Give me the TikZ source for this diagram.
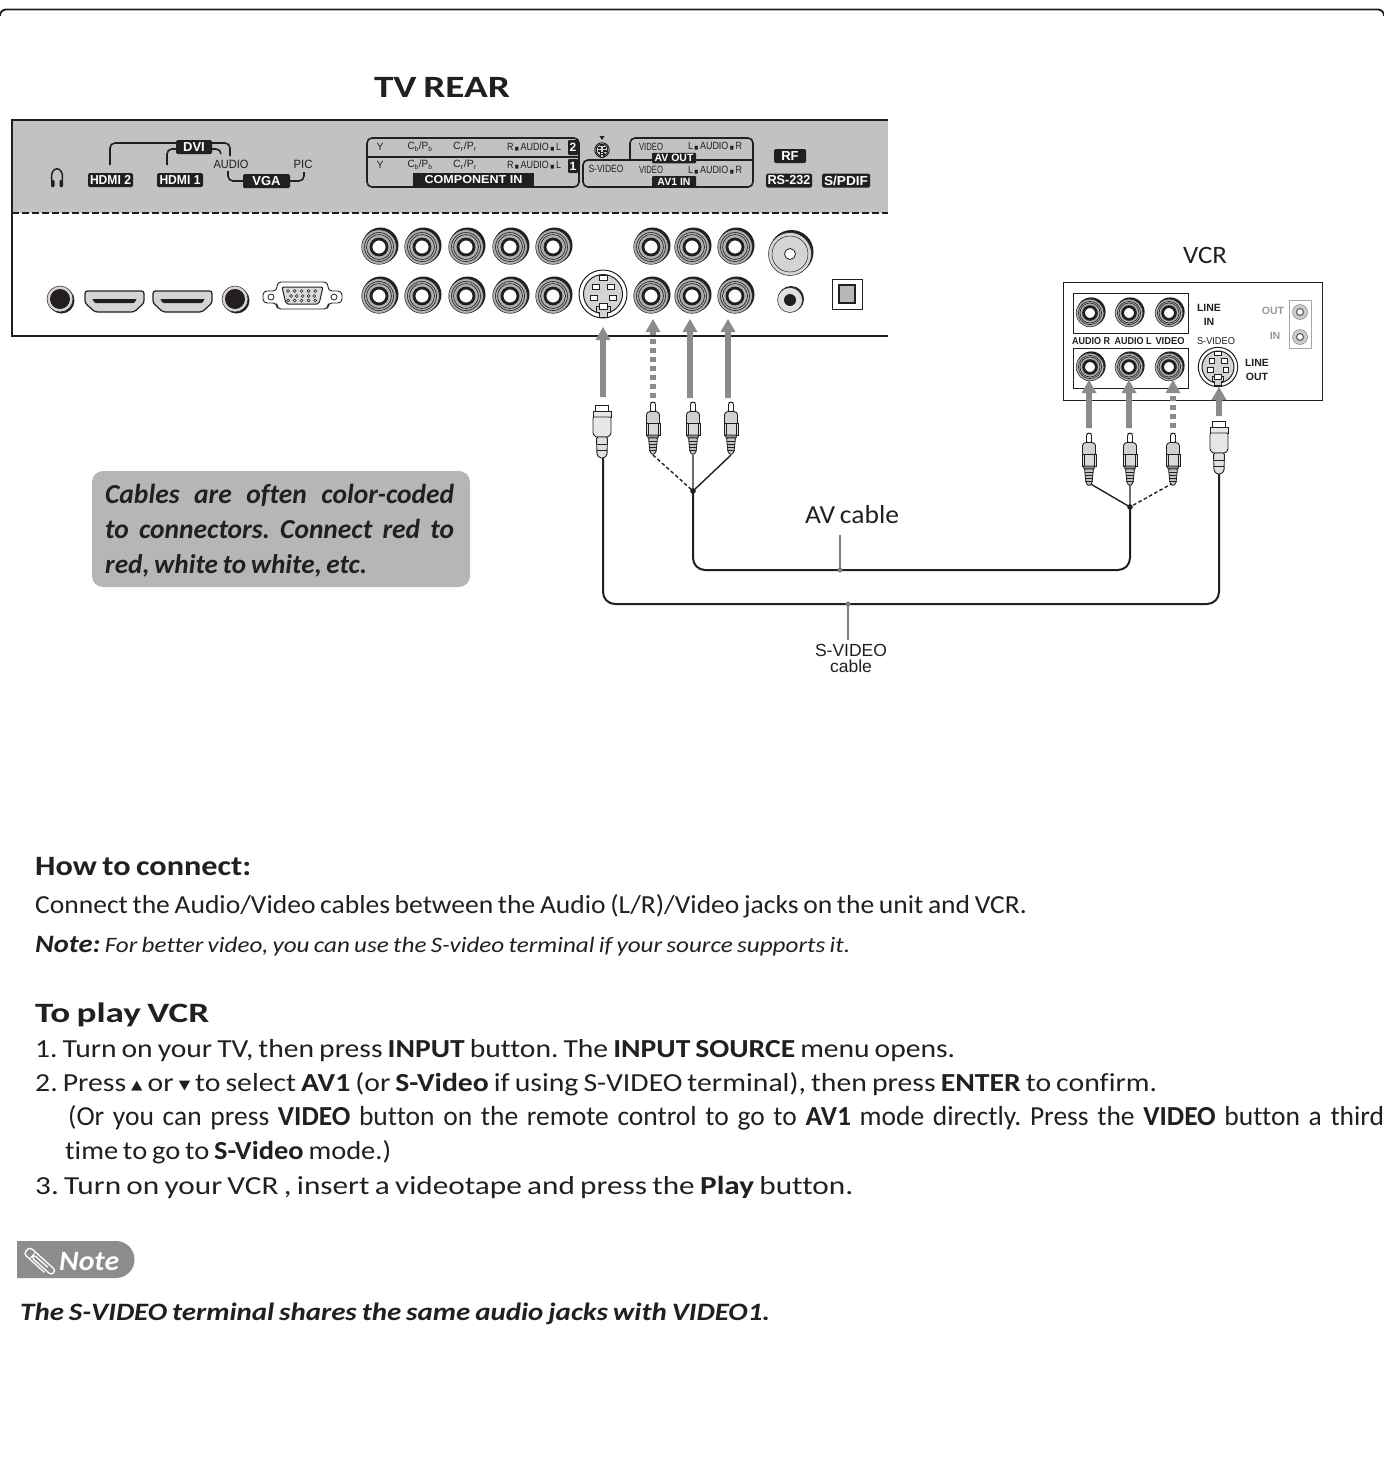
\documentclass[tikz,border=0pt]{standalone}
\usepackage{fontspec}
\usepackage{graphicx}
\setmainfont[Ligatures=CommonOff,WordSpace=0.75]{Carlito}
\newfontfamily\ar{Liberation Sans}
\newfontfamily\djv{DejaVu Sans}
\AtBeginDocument{\frenchspacing}
\definecolor{panel}{HTML}{C2C2C2}
\definecolor{arrowgray}{HTML}{8B8B8F}
\definecolor{calloutgray}{HTML}{B6B6B6}
\definecolor{taggray}{HTML}{8C8C8C}
\definecolor{ink}{HTML}{231F20}
\newsavebox\fitbox
\newcommand\fitx[2]{\sbox\fitbox{#2}\pgfmathsetmacro\fitr{#1/\wd\fitbox}\scalebox{\fitr}[1]{\usebox\fitbox}}
\newcommand\jst[2]{\hbox to #1pt{\spaceskip=.2em plus 2em minus .1em #2}}
\newcommand\fs[1]{\fontsize{#1}{#1}\selectfont}
\newcommand\sq{\,{\djv\fs{5}■}\,}
\usetikzlibrary{calc}
\tikzset{
 lab/.style={fill=ink,text=white,rounded corners=1.5,inner sep=0,font=\ar\bfseries\fs{13},minimum height=14},
 tiny/.style={inner sep=0,font=\ar\fs{10.5},text=ink},
 small/.style={inner sep=0,font=\ar\fs{12},text=ink},
 frameln/.style={draw=ink,line width=1.6,rounded corners=5},
 body/.style={anchor=base west,inner sep=0,text=ink,font=\fs{26}},
 head/.style={anchor=base west,inner sep=0,text=ink,font=\bfseries\fs{28}},
 cable/.style={draw=ink,line width=2,rounded corners=12},
 wire/.style={draw=ink,line width=1.4},
 dwire/.style={draw=ink,line width=1.4,dash pattern=on 3.5 off 2.5},
 leader/.style={draw=gray,line width=1.5},
}
% RCA jack
\newcommand\rca[3]{\begin{scope}[shift={(#1,#2)},scale=#3]
 \fill[ink] (1.5,-1.5) circle[radius=18];
 \filldraw[draw=ink,line width=.5,fill=panel!90!black] (0,0) circle[radius=17.3];
 \draw[ink,line width=.6] (0,0) circle[radius=14.5];
 \draw[ink,line width=.6] (0,0) circle[radius=12.5];
 \filldraw[draw=ink,line width=2.8,fill=white] (0,0) circle[radius=8];
 \end{scope}}
\newcommand\svid[3]{\begin{scope}[shift={(#1,#2)},scale=#3]
 \filldraw[draw=ink,line width=1,fill=white] (0,0) circle[radius=24];
 \filldraw[draw=ink,line width=1,fill=panel!70!white] (0,0) circle[radius=19.5];
 \filldraw[draw=ink,fill=white,line width=.7] (-4,-19) rectangle (4,-14);
 \filldraw[draw=ink,fill=white,line width=.7] (-11,-10) rectangle (-4,-5);
 \filldraw[draw=ink,fill=white,line width=.7] (4,-10) rectangle (11,-5);
 \filldraw[draw=ink,fill=white,line width=.7] (-13,1) rectangle (-6,6);
 \filldraw[draw=ink,fill=white,line width=.7] (6,1) rectangle (13,6);
 \filldraw[draw=ink,fill=panel!70!white,line width=.8] (-7,12) -- (-7,18) -- (-4,18) -- (-4,23) -- (4,23) -- (4,18) -- (7,18) -- (7,12) -- cycle;
 \filldraw[draw=ink,fill=white,line width=.7] (-4,9) rectangle (4,15);
 \end{scope}}
\newcommand\hdmi[2]{\begin{scope}[shift={(#1,#2)}]
 \filldraw[draw=ink,line width=1.2,fill=panel!70!white,rounded corners=2.5] (0,0) -- (59,0) -- (59,12) -- (49,21) -- (10,21) -- (0,12) -- cycle;
 \fill[ink,rounded corners=1] (7,8) -- (52,8) -- (49,12) -- (10,12) -- cycle;
 \end{scope}}
\newcommand\ajack[2]{\fill[ink] ($(#1,#2)+(1.5,1.5)$) circle[radius=13];
 \filldraw[draw=ink,line width=.5,fill=panel!70!white] (#1,#2) circle[radius=13];
 \fill[ink] (#1,#2) circle[radius=10];}
% arrows: x, tip, tail
\newcommand\arr[3]{\fill[arrowgray] (#1-2.8,#3) -- (#1-2.8,#2+13) -- (#1-7.5,#2+13) -- (#1,#2) -- (#1+7.5,#2+13) -- (#1+2.8,#2+13) -- (#1+2.8,#3) -- cycle;}
\newcommand\darr[3]{\fill[arrowgray] (#1-7.5,#2+13) -- (#1,#2) -- (#1+7.5,#2+13) -- cycle;
 \draw[arrowgray,line width=5.6,dash pattern=on 5 off 4] (#1,#3) -- (#1,#2+13);}
% RCA plug: x, top
\newcommand\rcaplug[2]{\begin{scope}[shift={(#1,#2)}]
 \filldraw[draw=ink,line width=.8,fill=white,rounded corners=1.5] (-2.5,10) -- (-2.5,1) -- (0,0) -- (2.5,1) -- (2.5,10) -- cycle;
 \filldraw[draw=ink,line width=.9,fill=panel!75!white,rounded corners=1.2] (-6.5,22) -- (-6.5,11.5) -- (-4,9.5) -- (4,9.5) -- (6.5,11.5) -- (6.5,22) -- cycle;
 \filldraw[draw=ink,line width=.9,fill=panel!60!white] (-7,21) rectangle (7,33);
 \draw[ink,line width=.7] (-5,21) -- (-5,33) (5,21) -- (5,33);
 \filldraw[draw=ink,line width=.9,fill=arrowgray] (-5.5,33) -- (5.5,33) -- (5,36) -- (-5,36) -- cycle;
 \filldraw[draw=ink,line width=.8,fill=panel,rounded corners=1] (-4.5,36) -- (4.5,36) -- (3,50) -- (0,53) -- (-3,50) -- cycle;
 \foreach \yy in {39,42,45,48} \draw[ink,line width=.8] (-3.8,\yy) -- (3.8,\yy);
 \end{scope}}
\newcommand\splug[2]{\begin{scope}[shift={(#1,#2)}]
 \filldraw[draw=ink,line width=.9,fill=white] (-6.5,0) rectangle (6.5,6);
 \filldraw[draw=ink,line width=.9,fill=panel!40!white] (-9,6) rectangle (9,12);
 \filldraw[draw=ink,line width=.9,fill=panel!40!white,rounded corners=1] (-9,12) -- (9,12) -- (9,29) -- (6,32) -- (-6,32) -- (-9,29) -- cycle;
 \filldraw[draw=ink,line width=.9,fill=panel!50!white,rounded corners=1.5] (-5.5,32) -- (5.5,32) -- (5,50) -- (2,53) -- (-2,53) -- (-5,50) -- cycle;
 \draw[ink,line width=.8] (-5.3,39) -- (5.3,39) (-5,45) -- (5,45);
 \end{scope}}
\begin{document}
\begin{tikzpicture}[x=1pt,y=-1pt]
\useasboundingbox (0,0) rectangle (1384,1465);
\fill[white] (0,0) rectangle (1384,1465);
% page frame
\draw[ink,line width=1.9,rounded corners=6] (0,16) -- (0,9.5) -- (1384,9.5) -- (1384,16);
\node[inner sep=0,font=\bfseries\fs{31},text=ink] (tvrear) at (442,87) {\fitx{136}{TV REAR}};
% TV panel
\fill[panel] (12,120) rectangle (888,213);
\draw[ink,line width=2] (888,120) -- (12,120) -- (12,336) -- (888,336);
\draw[ink,line width=1.8,dash pattern=on 6.5 off 3.5] (12,213) -- (888,213);
% headphone icon
\draw[ink,line width=1.5] (52.5,183) .. controls (47,164) and (67,164) .. (61.5,183);
\fill[ink,rounded corners=1] (51,180) rectangle (54.5,187) (59.5,180) rectangle (63,187);
% left labels
\node[lab,minimum width=45] (hdmib) at (110.5,180) {\fitx{41}{HDMI 2}};
\node[lab,minimum width=46] (hdmia) at (180,180) {\fitx{41}{HDMI 1}};
\node[lab,minimum width=36] (dvi) at (194,147) {DVI};
\node[lab,minimum width=47] (vga) at (266.5,181) {VGA};
\node[small] (audio) at (231,164) {\fitx{35}{AUDIO}};
\node[small] (pic) at (303,164) {\fitx{19}{PIC}};
\draw[frameln] (110,165) -- (110,143) -- (dvi.west |- 0,143);
\draw[frameln] (dvi.east |- 0,143) -- (230,143) -- (230,156);
\draw[frameln] (167,165) -- (167,149) -- (dvi.west |- 0,149);
\draw[frameln] (dvi.east |- 0,149) -- (221,149) -- (221,154);
\draw[frameln] (228,171) -- (228,181) -- (vga.west);
\draw[frameln] (vga.east) -- (304,181) -- (304,172);
% component block
\draw[ink,line width=1.6,rounded corners=5] (367,138) rectangle (579,187);
\draw[ink,line width=1.6] (367,157) -- (579,157);
\foreach \yy/\nn in {147/b,165/a}{
 \node[tiny] (y\nn) at (380,\yy) {Y};
 \node[tiny] (cb\nn) at (420,\yy) {\fitx{25}{C$_{\mathrm b}$/P$_{\mathrm b}$}};
 \node[tiny] (cr\nn) at (465,\yy) {\fitx{24}{C$_{\mathrm r}$/P$_{\mathrm r}$}};
 \node[tiny] (ra\nn) at (534,\yy) {\fitx{54}{R\sq AUDIO\sq L}};
}
\fill[ink,rounded corners=1] (568,140) rectangle (578,155) (568,159) rectangle (578,173);
\node[inner sep=0,font=\ar\bfseries\fs{12},text=white] (n2) at (573,147.5) {2};
\node[inner sep=0,font=\ar\bfseries\fs{12},text=white] (n1) at (573,166) {1};
\node[lab,minimum width=121,minimum height=14,rounded corners=0,font=\ar\bfseries\fs{11.5}] (comp) at (473.5,180) {\fitx{98}{COMPONENT IN}};
% s-video icon
\fill[ink] (599.5,136) -- (604.5,136) -- (602,140) -- cycle;
\svid{602}{150}{.3}
% AV block
\draw[ink,line width=1.6,rounded corners=5] (630,160) -- (630,138) -- (753,138) -- (753,187) -- (583,187) -- (583,160) -- (753,160);
\node[lab,minimum width=44,minimum height=10.5,rounded corners=1,font=\ar\bfseries\fs{10.5}] (avout) at (674,158) {AV OUT};
\node[lab,minimum width=44,minimum height=11,rounded corners=1,font=\ar\bfseries\fs{10.5}] (avin) at (674,181.5) {AV1 IN};
\node[tiny] (v1) at (651,147) {\fitx{24}{VIDEO}};
\node[tiny] (la1) at (715,146) {\fitx{54}{L\sq AUDIO\sq R}};
\node[tiny] (sv1) at (606,169) {\fitx{35}{S-VIDEO}};
\node[tiny] (v2) at (651,169.5) {\fitx{24}{VIDEO}};
\node[tiny] (la2) at (715,170) {\fitx{54}{L\sq AUDIO\sq R}};
\node[lab,minimum width=32] (rf) at (790,156) {RF};
\node[lab,minimum width=46] (rs) at (789,180.5) {\fitx{43}{RS-232}};
\node[lab,minimum width=48] (spdif) at (846,180.5) {\fitx{44}{S/PDIF}};
% lower connectors
\ajack{60}{299}
\hdmi{85}{291}
\hdmi{153}{291}
\ajack{235}{299}
% VGA
\filldraw[draw=ink,line width=.9,fill=white,rounded corners=4] (263,291) -- (277,291) -- (277,282) -- (328,282) -- (328,291) -- (342,291) -- (342,303) -- (328,303) -- (328,309) -- (277,309) -- (277,303) -- (263,303) -- cycle;
\filldraw[draw=ink,line width=.8,fill=white] (271,297) circle[radius=3];
\filldraw[draw=ink,line width=.8,fill=white] (334,297) circle[radius=3];
\filldraw[draw=ink,line width=1,fill=panel!60!white,rounded corners=2] (282,287) -- (323,287) -- (319,304) -- (286,304) -- cycle;
\foreach \i in {0,...,4} \draw[ink,line width=.5] (288+\i*6.8,291) circle[radius=1.5];
\foreach \i in {0,...,4} \draw[ink,line width=.5] (291+\i*5.8,296) circle[radius=1.5];
\foreach \i in {0,...,4} \draw[ink,line width=.5] (288+\i*6.8,300.5) circle[radius=1.5];
% jacks
\foreach \xx in {379,422,466,510,553} {\rca{\xx}{247}{1}\rca{\xx}{296}{1}}
\foreach \xx in {651,692,735} {\rca{\xx}{247}{1}\rca{\xx}{296}{1}}
\svid{603}{294}{1}
% RF
\fill[ink] (791.5,252) circle[radius=22];
\filldraw[draw=ink,line width=.5,fill=panel!70!white] (790,254) circle[radius=21.5];
\draw[ink,line width=.5] (790,254) circle[radius=18];
\filldraw[draw=ink,line width=.8,fill=white] (790,254) circle[radius=5.5];
% small jack
\fill[ink] (791,299) circle[radius=13];
\filldraw[draw=ink,line width=.5,fill=panel!50!white] (790,300) circle[radius=12.5];
\fill[ink] (790,300) circle[radius=6];
% optical
\draw[ink,line width=.8] (832,279) rectangle (862,309);
\filldraw[draw=ink,line width=2.2,fill=panel!95!black] (839,285) rectangle (855,303);
% cables
\coordinate (tvs) at (603,458);
\coordinate (tvr) at (653,455);
\coordinate (tvm) at (693,455);
\coordinate (tvl) at (731,455);
\coordinate (ja) at (693,491);
\coordinate (vcrs) at (1219,473);
\coordinate (vr) at (1089,483);
\coordinate (vm) at (1130,483);
\coordinate (vl) at (1173,483);
\coordinate (jb) at (1130,507);
\coordinate (avt) at (840,570);
\coordinate (svt) at (848,604);
\path[cable] (tvs) -- (603,604) -- (1219,604) -- (vcrs);
\path[cable] (ja) -- (693,570) -- (1130,570) -- (jb);
\path[wire] (tvm) -- (ja) (tvl) -- (ja) (vr) -- (jb) (vm) -- (jb);
\path[dwire] (tvr) -- (ja);
\path[dwire] (vl) -- (jb);
\fill[ink] (ja) circle[radius=2.8] (jb) circle[radius=2.8];
% plugs and arrows at TV
\arr{603}{327}{397}
\darr{653}{319}{398}
\arr{690}{319}{398}
\arr{728}{319}{398}
\splug{602}{405}
\rcaplug{653}{402}
\rcaplug{693}{402}
\rcaplug{731}{402}
% callout
\fill[calloutgray,rounded corners=11] (92,471) rectangle (470,587);
\node[anchor=base west,inner sep=0,text=ink,font=\bfseries\itshape\fs{27.5}] (c1) at (105,503) {\jst{349}{Cables are often color-coded}};
\node[anchor=base west,inner sep=0,text=ink,font=\bfseries\itshape\fs{27.5}] (c2) at (105,538) {\jst{349}{to connectors. Connect red to}};
\node[anchor=base west,inner sep=0,text=ink,font=\bfseries\itshape\fs{27}] (c3) at (105,573) {\fitx{262}{red, white to white, etc.}};
% labels on cables
\node[inner sep=0,font=\fs{26},text=ink] (avl) at (852,515) {\fitx{94}{AV cable}};
\node[inner sep=0,font=\ar\fs{17.5},text=ink,align=center] (svl) at (851,658) {S-VIDEO\\[-1.5pt]cable};
\path[leader] (840,535) -- (avt);
\path[leader] (848,640) -- (svt);
\fill[gray] (avt) circle[radius=2.6] (svt) circle[radius=2.6];
% VCR
\node[inner sep=0,font=\fs{25},text=ink] (vcrl) at (1205,255) {\fitx{44}{VCR}};
\draw[ink,line width=1] (1063,282) rectangle (1322,400);
\draw[ink,line width=.8] (1073,293) rectangle (1188,333);
\draw[ink,line width=.8] (1073,348) rectangle (1188,388);
\foreach \xx in {1090,1129,1169} {\rca{\xx}{313}{.8}\rca{\xx}{367}{.8}}
\svid{1218}{367}{.82}
\node[inner sep=0,font=\ar\bfseries\fs{10.5},text=ink] (l1) at (1209,308) {LINE};
\node[inner sep=0,font=\ar\bfseries\fs{10.5},text=ink] (l2) at (1209,322) {IN};
\node[inner sep=0,font=\ar\bfseries\fs{10.5},text=ink] (l3) at (1257,363) {LINE};
\node[inner sep=0,font=\ar\bfseries\fs{10.5},text=ink] (l4) at (1257,377) {OUT};
\node[inner sep=0,font=\ar\bfseries\fs{10},text=ink] (a1) at (1091,341) {\fitx{38}{AUDIO R}};
\node[inner sep=0,font=\ar\bfseries\fs{10},text=ink] (a2) at (1133,341) {\fitx{37}{AUDIO L}};
\node[inner sep=0,font=\ar\bfseries\fs{10},text=ink] (a3) at (1170,341) {\fitx{29}{VIDEO}};
\node[inner sep=0,font=\ar\fs{10},text=ink] (a4) at (1216,341) {\fitx{38}{S-VIDEO}};
\draw[gray!70,line width=.8] (1289,300) rectangle (1311,348);
\node[inner sep=0,font=\ar\bfseries\fs{10.5},text=gray!80] (o1) at (1273,311) {OUT};
\node[inner sep=0,font=\ar\bfseries\fs{10.5},text=gray!80] (o2) at (1275,336) {IN};
\foreach \yy in {312,337} {
 \filldraw[draw=gray,fill=gray!40,line width=.5] (1300,\yy) circle[radius=7.5];
 \filldraw[draw=gray!80!black,fill=white,line width=1.2] (1300,\yy) circle[radius=3.5];
}
\arr{1089}{380}{428}
\arr{1129}{380}{428}
\darr{1173}{380}{428}
\arr{1219}{387}{416}
\rcaplug{1089}{433}
\rcaplug{1130}{433}
\rcaplug{1173}{433}
\splug{1219}{421}
% text
\node[head] (h1) at (35,875) {\fitx{216}{How to connect:}};
\node[body] (t1) at (35,913) {\fitx{992}{Connect the Audio/Video cables between the Audio (L/R)/Video jacks on the unit and VCR.}};
\node[body,font=\itshape\fs{22}] (t2) at (35,952) {\fitx{815}{{\bfseries\fs{25}Note:} For better video, you can use the S-video terminal if your source supports it.}};
\node[head] (h2) at (35,1022) {\fitx{174}{To play VCR}};
\node[body] (t3) at (35,1057) {\fitx{920}{1. Turn on your TV,  then press \textbf{INPUT} button. The \textbf{INPUT SOURCE} menu opens.}};
\node[body] (t4) at (35,1091) {\fitx{1122}{2. Press {\djv\fs{13}\raisebox{2pt}{▲}} or {\djv\fs{13}\raisebox{2pt}{▼}} to select \textbf{AV1} (or \textbf{S-Video} if using S-VIDEO terminal), then press \textbf{ENTER} to confirm.}};
\node[body,font=\fs{27.5}] (t5) at (68,1125) {\jst{1316}{(Or you can press \textbf{VIDEO} button on the remote control to go to \textbf{AV1} mode directly. Press the \textbf{VIDEO} button a third}};
\node[body] (t6) at (65,1159) {\fitx{326}{time to go to \textbf{S-Video} mode.)}};
\node[body] (t7) at (35,1194) {\fitx{818}{3. Turn on your VCR , insert a videotape and press the \textbf{Play} button.}};
% note tag
\fill[taggray] (17,1241) -- (116,1241) arc[start angle=-90,end angle=90,radius=18.5] -- (17,1278) -- cycle;
\begin{scope}[shift={(27.5,1251)},rotate=-42]
\draw[white,line width=1.3,rounded corners=3.2] (27,4.5) -- (-1,4.5) -- (-1,-4.5) -- (34,-4.5) -- (34,2) -- (7,2) -- (7,-1.5) -- (26,-1.5);
\end{scope}
\node[anchor=base west,inner sep=0,text=white,font=\bfseries\itshape\fs{28}] (nt) at (59,1270) {\fitx{60}{Note}};
\node[anchor=base west,inner sep=0,text=ink,font=\bfseries\itshape\fs{25}] (t8) at (20,1320) {\fitx{750}{The S-VIDEO terminal shares the same audio jacks with VIDEO1.}};
\end{tikzpicture}
\end{document}
